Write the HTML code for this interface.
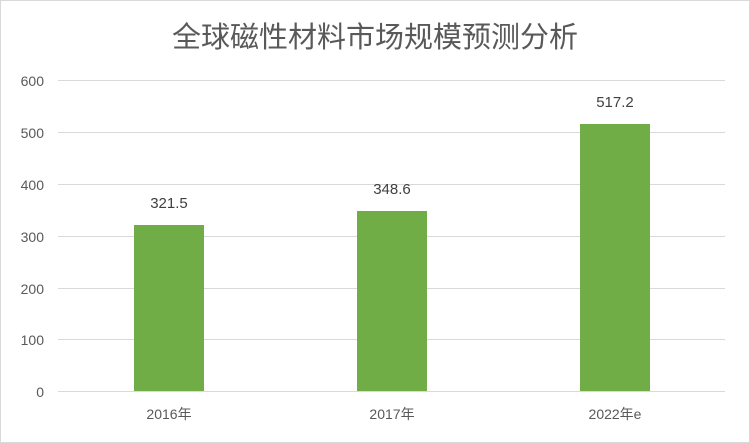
<!DOCTYPE html>
<html><head><meta charset="utf-8"><style>
html,body{margin:0;padding:0;background:#fff;}
svg{display:block;}
text{font-family:"Liberation Sans","Noto Sans CJK SC",sans-serif;}
</style></head><body>
<svg width="750" height="443" viewBox="0 0 750 443">
<rect x="0.5" y="0.5" width="749" height="442" fill="#fff" stroke="#d9d9d9"/>
<text x="375" y="47" text-anchor="middle" font-size="29" fill="#595959">全球磁性材料市场规模预测分析</text>
<g stroke="#d9d9d9" stroke-width="1">
<line x1="58" y1="80.5" x2="725" y2="80.5"/>
<line x1="58" y1="132.5" x2="725" y2="132.5"/>
<line x1="58" y1="184.5" x2="725" y2="184.5"/>
<line x1="58" y1="236.5" x2="725" y2="236.5"/>
<line x1="58" y1="288.5" x2="725" y2="288.5"/>
<line x1="58" y1="339.5" x2="725" y2="339.5"/>
<line x1="58" y1="391.5" x2="725" y2="391.5"/>
</g>
<g font-size="14" fill="#595959" text-anchor="end">
<text x="44" y="86">600</text>
<text x="44" y="138">500</text>
<text x="44" y="190">400</text>
<text x="44" y="242">300</text>
<text x="44" y="294">200</text>
<text x="44" y="345">100</text>
<text x="44" y="397">0</text>
</g>
<g fill="#70ad47">
<rect x="134" y="225" width="70" height="166"/>
<rect x="357" y="211" width="70" height="180"/>
<rect x="580" y="124" width="70" height="267"/>
</g>
<g font-size="15" fill="#404040" text-anchor="middle">
<text x="169" y="208">321.5</text>
<text x="392" y="194">348.6</text>
<text x="615" y="107">517.2</text>
</g>
<g font-size="14" fill="#595959" text-anchor="middle">
<text x="169" y="419">2016年</text>
<text x="392" y="419">2017年</text>
<text x="615" y="419">2022年e</text>
</g>
</svg>
</body></html>
